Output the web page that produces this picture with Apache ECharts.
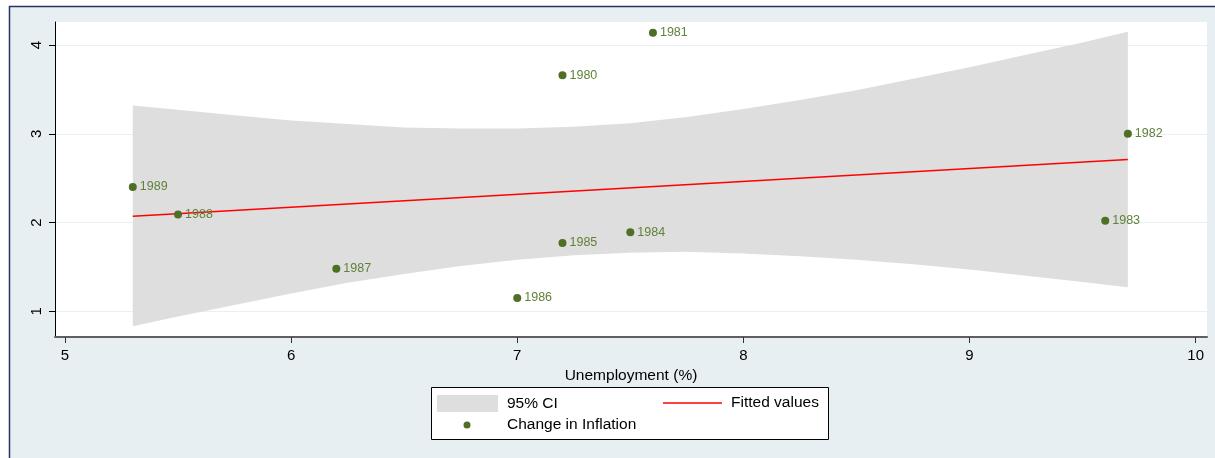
<!DOCTYPE html>
<html>
<head>
<meta charset="utf-8">
<title>Change in Inflation vs Unemployment</title>
<script src="https://cdn.jsdelivr.net/npm/echarts@6/dist/echarts.min.js"></script>
<style>
  html, body { margin: 0; padding: 0; background: #ffffff; }
  #chart { width: 1215px; height: 458px; }
</style>
</head>
<body>
<div id="chart"></div>
<script>
// Observations: year, unemployment rate (%), change in inflation
const years = ['1980', '1981', '1982', '1983', '1984', '1985', '1986', '1987', '1988', '1989'];
const unemployment = [7.2, 7.6, 9.7, 9.6, 7.5, 7.2, 7.0, 6.2, 5.5, 5.3];
const inflationChange = [3.66, 4.14, 3.00, 2.02, 1.89, 1.77, 1.15, 1.48, 2.09, 2.40];

// Fitted regression line (end points)
const fitX = [5.3, 9.7];
const fitY = [2.07, 2.71];

// 95% confidence band around the fit
const ciX     = [5.3, 5.5, 5.75, 6.0, 6.25, 6.5, 6.75, 7.0, 7.25, 7.5, 7.75, 8.0, 8.25, 8.5, 8.75, 9.0, 9.25, 9.5, 9.7];
const ciUpper = [3.32, 3.27, 3.21, 3.15, 3.11, 3.07, 3.06, 3.06, 3.08, 3.12, 3.19, 3.28, 3.38, 3.49, 3.62, 3.75, 3.89, 4.03, 4.15];
const ciLower = [0.83, 0.94, 1.07, 1.20, 1.32, 1.42, 1.51, 1.58, 1.63, 1.66, 1.67, 1.65, 1.62, 1.58, 1.53, 1.47, 1.40, 1.33, 1.27];

// Axis ticks
const xTicks = [5, 6, 7, 8, 9, 10];
const yTicks = [1, 2, 3, 4];

const FONT = '"Liberation Sans", Arial, sans-serif';
const MARKER = '#4f6f24';

const chart = echarts.init(document.getElementById('chart'), null, { renderer: 'canvas' });

const legendText = { fontSize: 15.5, color: '#000', fontFamily: FONT };

const option = {
  animation: false,
  backgroundColor: '#ffffff',
  textStyle: { fontFamily: FONT },
  graphic: [
    {
      type: 'rect', z: -10, silent: true,
      shape: { x: 9.5, y: 6.5, width: 1300, height: 500 },
      style: { fill: '#e8eff2', stroke: '#233566', lineWidth: 1.5 }
    },
    {
      type: 'rect', z: 5, silent: true,
      shape: { x: 431.5, y: 387.5, width: 397, height: 52 },
      style: { fill: '#ffffff', stroke: '#000000', lineWidth: 1 }
    }
  ],
  grid: {
    left: 55, right: 8, top: 22, bottom: 121,
    show: true, backgroundColor: '#ffffff', borderWidth: 0
  },
  legend: [
    {
      z: 10, left: 437, top: 395, padding: 0,
      itemWidth: 61, itemHeight: 17, icon: 'rect',
      data: ['95% CI'],
      textStyle: Object.assign({ padding: [0, 0, 0, 4] }, legendText)
    },
    {
      z: 10, left: 663, top: 395, padding: 0,
      itemWidth: 59, itemHeight: 1.5, icon: 'rect',
      itemStyle: { color: '#ff0000', borderWidth: 0 },
      data: ['Fitted values'],
      textStyle: Object.assign({ padding: [0, 0, 0, 4] }, legendText)
    },
    {
      z: 10, left: 463.5, top: 417, padding: 0,
      itemWidth: 7, itemHeight: 7, icon: 'circle',
      itemStyle: { color: MARKER, opacity: 1 },
      data: ['Change in Inflation'],
      textStyle: Object.assign({ padding: [0, 0, 0, 31.5] }, legendText)
    }
  ],
  xAxis: {
    type: 'value',
    min: 4.956, max: 10.05,
    name: 'Unemployment (%)',
    nameLocation: 'middle',
    nameGap: 25,
    nameTextStyle: { fontSize: 15.5, color: '#000', fontFamily: FONT },
    axisLine: { show: true, onZero: false, lineStyle: { color: '#5f5f5f', width: 2 } },
    axisTick: { show: true, length: 6, customValues: xTicks, lineStyle: { color: '#333', width: 1 } },
    axisLabel: { customValues: xTicks, margin: 11, fontSize: 15, color: '#000', fontFamily: FONT },
    splitLine: { show: false }
  },
  yAxis: {
    type: 'value',
    min: 0.71, max: 4.26,
    axisLine: { show: true, onZero: false, lineStyle: { color: '#000', width: 1 } },
    axisTick: { show: true, length: 6, customValues: yTicks, lineStyle: { color: '#000', width: 1 } },
    axisLabel: { customValues: yTicks, rotate: 90, margin: 11, fontSize: 15, color: '#000', fontFamily: FONT },
    splitLine: { show: true, lineStyle: { color: '#e8f0f2', width: 1 } }
  },
  series: [
    {
      name: '95% CI',
      type: 'custom',
      silent: true,
      z: 1,
      itemStyle: { color: '#dedede' },
      data: [[ciX[0], ciUpper[0]]],
      renderItem: function (params, api) {
        const pts = [];
        for (let i = 0; i < ciX.length; i++) pts.push(api.coord([ciX[i], ciUpper[i]]));
        for (let i = ciX.length - 1; i >= 0; i--) pts.push(api.coord([ciX[i], ciLower[i]]));
        return { type: 'polygon', shape: { points: pts, smooth: 0 }, style: { fill: '#dedede' } };
      }
    },
    {
      name: 'Fitted values',
      type: 'line',
      z: 3,
      symbol: 'none',
      silent: true,
      data: fitX.map((x, i) => [x, fitY[i]]),
      lineStyle: { color: '#ff0000', width: 1.5 },
      itemStyle: { color: '#ff0000' }
    },
    {
      name: 'Change in Inflation',
      type: 'scatter',
      z: 4,
      symbol: 'circle',
      symbolSize: 8,
      itemStyle: { color: MARKER, opacity: 1 },
      data: unemployment.map((x, i) => ({ value: [x, inflationChange[i]], name: years[i] })),
      label: {
        show: true,
        position: 'right',
        distance: 3,
        formatter: p => p.name,
        fontSize: 12.5,
        color: '#62813a',
        fontFamily: FONT
      }
    }
  ]
};

chart.setOption(option);
</script>
</body>
</html>
